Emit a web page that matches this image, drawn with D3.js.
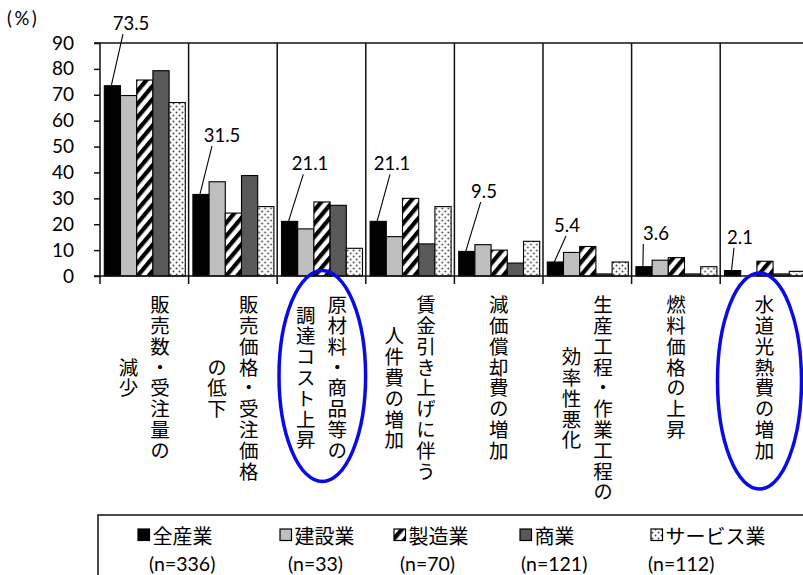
<!DOCTYPE html>
<html>
<head>
<meta charset="utf-8">
<script src="https://cdn.jsdelivr.net/npm/d3@7"></script>
<style>
  html, body { margin: 0; padding: 0; background: #fff; overflow: hidden; }
  svg { display: block; }
  text { fill: #000; }
  .vlabel { writing-mode: vertical-rl; text-orientation: upright; }
</style>
</head>
<body>
<div id="chart"></div>
<script>
// Reasons for falling profit, by industry (%)
const categoryLines = [
  ["販売数・受注量の", "減少"],
  ["販売価格・受注価格", "の低下"],
  ["原材料・商品等の", "調達コスト上昇"],
  ["賃金引き上げに伴う", "人件費の増加"],
  ["減価償却費の増加"],
  ["生産工程・作業工程の", "効率性悪化"],
  ["燃料価格の上昇"],
  ["水道光熱費の増加"]
];
const seriesNames = ["全産業", "建設業", "製造業", "商業", "サービス業"];
const sampleSizes = [336, 33, 70, 121, 112];

const allIndustries = [73.5, 31.5, 21.1, 21.1, 9.5, 5.4, 3.6, 2.1];
const construction  = [69.7, 36.4, 18.2, 15.2, 12.1, 9.1, 6.1, 0.0];
const manufacturing = [75.7, 24.3, 28.6, 30.0, 10.0, 11.4, 7.1, 5.7];
const commerce      = [79.3, 38.8, 27.3, 12.4, 5.0, 0.8, 0.8, 0.8];
const services      = [67.0, 26.8, 10.7, 26.8, 13.4, 5.4, 3.6, 1.8];
const seriesValues = [allIndustries, construction, manufacturing, commerce, services];

const yTicks = [0, 10, 20, 30, 40, 50, 60, 70, 80, 90];

// categories that are circled
const highlighted = [2, 7];

// callout placement for the 全産業 value labels (relative to its bar)
const calloutDx = [18.6, 21, 20.4, 13.8, 17.2, 11.6, 12, 7.4];
const calloutDy = [55.7, 52.3, 51, 51, 53.3, 30, 26.7, 26.7];
const leaderEndDx = [-8, -10, -6.7, -2, -3.3, -1, -12.7, -6];

const W = 803, H = 575;
const svg = d3.select("#chart").append("svg").attr("width", W).attr("height", H);

const defs = svg.append("defs");
const hatch = defs.append("pattern").attr("id", "hatch")
  .attr("patternUnits", "userSpaceOnUse").attr("width", 8.5).attr("height", 8.5)
  .attr("patternTransform", "rotate(40)");
hatch.append("rect").attr("width", 8.5).attr("height", 8.5).attr("fill", "#fff");
hatch.append("rect").attr("x", 0).attr("width", 4.2).attr("height", 8.5).attr("fill", "#000");

const dots = defs.append("pattern").attr("id", "dots")
  .attr("patternUnits", "userSpaceOnUse").attr("width", 6).attr("height", 6);
dots.append("rect").attr("width", 6).attr("height", 6).attr("fill", "#fff");
dots.append("circle").attr("cx", 1.5).attr("cy", 1.5).attr("r", 0.95).attr("fill", "#444");
dots.append("circle").attr("cx", 4.5).attr("cy", 4.5).attr("r", 0.95).attr("fill", "#444");

const fills = ["#000000", "#bfbfbf", "url(#hatch)", "#595959", "url(#dots)"];

const plotLeft = 100, plotTop = 43, plotBottom = 276, plotRight = 808.8;
const x0 = d3.scaleBand().domain(d3.range(categoryLines.length)).range([plotLeft, plotRight]).padding(0);
const x1 = d3.scaleBand().domain(d3.range(seriesNames.length)).range([4.3, x0.bandwidth() - 3.3]).padding(0);
const y = d3.scaleLinear().domain([0, 90]).range([plotBottom, plotTop]);

const lineColor = "#111";
const numFont = "Lato, 'Open Sans', sans-serif";
const jpFont = "'Noto Sans CJK JP', sans-serif";

// frame: top edge and category separators
svg.append("line").attr("x1", plotLeft).attr("x2", W).attr("y1", y(90)).attr("y2", y(90))
  .attr("stroke", lineColor).attr("stroke-width", 1.5);
svg.append("g").selectAll("line").data(d3.range(1, categoryLines.length + 1)).join("line")
  .attr("x1", d => x0(0) + d * x0.bandwidth()).attr("x2", d => x0(0) + d * x0.bandwidth())
  .attr("y1", y(90)).attr("y2", plotBottom + 8)
  .attr("stroke", lineColor).attr("stroke-width", 1.5);

// bars
const groups = svg.append("g").selectAll("g").data(categoryLines).join("g")
  .attr("transform", (d, i) => `translate(${x0(i)},0)`);
groups.selectAll("rect")
  .data((d, i) => seriesValues.map((s, k) => ({ k, v: s[i] })))
  .join("rect")
  .attr("x", d => x1(d.k)).attr("width", x1.bandwidth())
  .attr("y", d => y(d.v)).attr("height", d => plotBottom - y(d.v))
  .attr("fill", d => fills[d.k])
  .attr("stroke", "#000").attr("stroke-width", 1.1);

// y axis
const yAxis = svg.append("g").attr("transform", `translate(${plotLeft},0)`)
  .call(d3.axisLeft(y).tickValues(yTicks).tickSize(6).tickPadding(20).tickFormat(d3.format("d")));
yAxis.select(".domain").attr("d", `M-6,${plotTop}H0V${plotBottom + 8}`).attr("stroke", lineColor).attr("stroke-width", 1.5);
yAxis.selectAll(".tick line").attr("stroke", lineColor).attr("stroke-width", 1.5);
yAxis.selectAll(".tick text").attr("font-family", numFont).attr("font-size", 19).attr("fill", "#000");

// zero line
svg.append("line").attr("x1", plotLeft - 6).attr("x2", W).attr("y1", plotBottom).attr("y2", plotBottom)
  .attr("stroke", lineColor).attr("stroke-width", 1.5);

// unit label
svg.append("text").attr("x", 7).attr("y", 25).attr("font-family", numFont).attr("font-size", 18.5)
  .attr("letter-spacing", 2.5)
  .text("(%)");

// value callouts for 全産業
const callouts = svg.append("g");
allIndustries.forEach((v, i) => {
  const bx = x0(i) + x1(0);
  const cx = bx + x1.bandwidth() / 2 + calloutDx[i];
  const base = y(v) - calloutDy[i];
  callouts.append("line")
    .attr("x1", bx + 7).attr("y1", y(v))
    .attr("x2", cx + leaderEndDx[i]).attr("y2", base + 4)
    .attr("stroke", "#000").attr("stroke-width", 1.1);
  callouts.append("text").attr("x", cx).attr("y", base)
    .attr("text-anchor", "middle").attr("font-family", numFont).attr("font-size", 18.5)
    .text(d3.format(".1f")(v));
});

// vertical category labels (columns right to left, centred on the longest)
const fontPx = 19.5, pitch = 20.8, labelTop = 295, colGap = 31.6;
const catG = svg.append("g").attr("font-family", jpFont).attr("font-size", fontPx);
categoryLines.forEach((lines, i) => {
  const cx = x0(i) + x0.bandwidth() / 2;
  const maxLen = d3.max(lines, l => l.length);
  const midY = labelTop + maxLen * pitch / 2;
  lines.forEach((line, j) => {
    catG.append("text").attr("class", "vlabel")
      .attr("x", cx + ((lines.length - 1) / 2 - j) * colGap)
      .attr("y", midY)
      .attr("text-anchor", "middle")
      .attr("letter-spacing", pitch - fontPx)
      .text(line);
  });
});

// highlight ellipses
const ellipseDx = [0.8, -5], ellipseCy = [376, 381], ellipseRx = [43.3, 42], ellipseRy = [105.5, 108];
highlighted.forEach((c, j) => {
  svg.append("ellipse")
    .attr("cx", x0(c) + x0.bandwidth() / 2 + ellipseDx[j]).attr("cy", ellipseCy[j])
    .attr("rx", ellipseRx[j]).attr("ry", ellipseRy[j])
    .attr("fill", "none").attr("stroke", "#0a0ae6").attr("stroke-width", 3.5);
});

// legend
svg.append("rect").attr("x", 98).attr("y", 515).attr("width", 760).attr("height", 80)
  .attr("fill", "#fff").attr("stroke", lineColor).attr("stroke-width", 1.5);
const legendX = [138, 280, 394, 520, 651];
const legendNX = [149, 288, 400, 521, 648];
const lg = svg.append("g");
seriesNames.forEach((name, k) => {
  lg.append("rect").attr("x", legendX[k]).attr("y", 529).attr("width", 11.5).attr("height", 11.5)
    .attr("fill", fills[k]).attr("stroke", "#000").attr("stroke-width", 1.2);
  lg.append("text").attr("x", legendX[k] + 14.5).attr("y", 535)
    .attr("dominant-baseline", "central").attr("font-family", jpFont).attr("font-size", 20)
    .text(name);
  lg.append("text").attr("x", legendNX[k]).attr("y", 563.5)
    .attr("dominant-baseline", "central")
    .attr("font-family", numFont).attr("font-size", 19.5)
    .text(`(n=${sampleSizes[k]})`);
});
</script>
</body>
</html>
